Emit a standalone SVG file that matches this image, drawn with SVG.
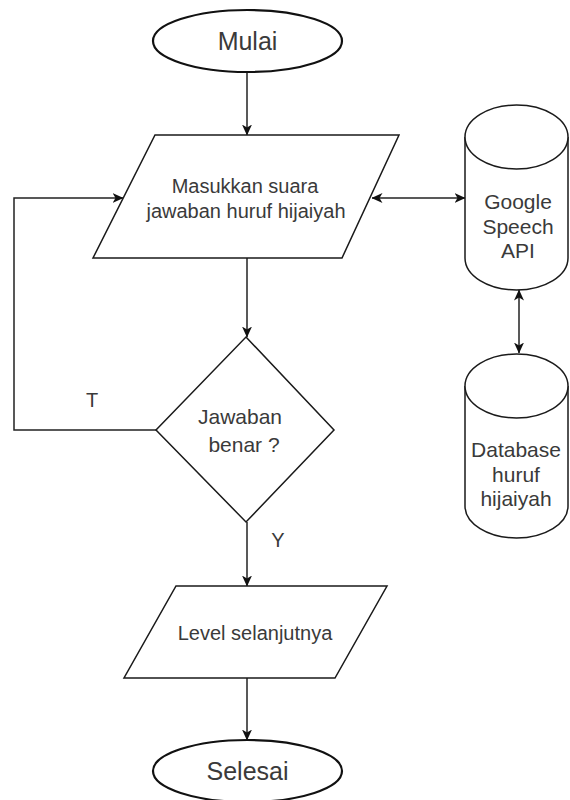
<svg xmlns="http://www.w3.org/2000/svg" width="570" height="800" viewBox="0 0 570 800">
  <defs>
    <marker id="arrow" viewBox="0 0 11 10" refX="10.5" refY="5" markerWidth="11" markerHeight="10" markerUnits="userSpaceOnUse" orient="auto-start-reverse">
      <path d="M0,0 L11,5 L0,10 L3,5 Z" fill="#111"/>
    </marker>
  </defs>
  <style>
    .shape { fill: #ffffff; stroke: #1a1a1a; stroke-width: 1.5; }
    .term { fill: #ffffff; stroke: #111; stroke-width: 2.2; }
    .edge { fill: none; stroke: #222; stroke-width: 1.5; }
    .label { font-family: "Liberation Sans", Arial, sans-serif; font-size: 20px; fill: #3a3a3a; text-anchor: middle; }
    .wide { font-size: 21px; }
    .big { font-size: 25px; }
  </style>
  <rect width="570" height="800" fill="#ffffff"/>

  <!-- connectors -->
  <g id="connectors">
    <line class="edge" x1="247" y1="72" x2="247" y2="135" marker-end="url(#arrow)"/>
    <line class="edge" x1="247" y1="258" x2="247" y2="337" marker-end="url(#arrow)"/>
    <path class="edge" d="M156,430 H14 V198 H123" marker-end="url(#arrow)"/>
    <line class="edge" x1="372" y1="198" x2="465" y2="198" marker-start="url(#arrow)" marker-end="url(#arrow)"/>
    <line class="edge" x1="519" y1="290" x2="519" y2="353" marker-start="url(#arrow)" marker-end="url(#arrow)"/>
    <line class="edge" x1="247" y1="522" x2="247" y2="586" marker-end="url(#arrow)"/>
    <line class="edge" x1="247" y1="678" x2="247" y2="740" marker-end="url(#arrow)"/>
    <text class="label" x="92" y="407">T</text>
    <text class="label" x="278" y="547">Y</text>
  </g>

  <!-- start -->
  <g id="mulai">
    <ellipse class="term" cx="247.5" cy="41" rx="94.5" ry="31"/>
    <text class="label big" x="247.5" y="50">Mulai</text>
  </g>

  <!-- voice input -->
  <g id="input-suara">
    <polygon class="shape" points="155,135 399,135 342,258 93,258"/>
    <text class="label" x="245" y="193">Masukkan suara</text>
    <text class="label" x="246" y="218">jawaban huruf hijaiyah</text>
  </g>

  <!-- speech recognition service -->
  <g id="google-speech">
    <path class="shape" d="M465,137 A51.5,32 0 0 1 568,137 V258 A51.5,32 0 0 1 465,258 Z"/>
    <path class="shape" fill="none" d="M465,137 A51.5,32 0 0 0 568,137"/>
    <text class="label wide" x="518" y="209">Google</text>
    <text class="label wide" x="518" y="234">Speech</text>
    <text class="label wide" x="518" y="258">API</text>
  </g>

  <!-- letters database -->
  <g id="database">
    <path class="shape" d="M465,386 A51.5,32 0 0 1 568,386 V506 A51.5,32 0 0 1 465,506 Z"/>
    <path class="shape" fill="none" d="M465,386 A51.5,32 0 0 0 568,386"/>
    <text class="label wide" x="516" y="457">Database</text>
    <text class="label wide" x="516" y="482">huruf</text>
    <text class="label wide" x="516" y="506">hijaiyah</text>
  </g>

  <!-- decision -->
  <g id="cek-jawaban">
    <polygon class="shape" points="246,337 334,430 246,522 156,430"/>
    <text class="label wide" x="240" y="424">Jawaban</text>
    <text class="label wide" x="244" y="452">benar ?</text>
  </g>

  <!-- next level -->
  <g id="level-selanjutnya">
    <polygon class="shape" points="176,586 387,586 335,678 124,678"/>
    <text class="label" x="255" y="640">Level selanjutnya</text>
  </g>

  <!-- end -->
  <g id="selesai">
    <ellipse class="term" cx="247.5" cy="771" rx="94.5" ry="31"/>
    <text class="label big" x="247.5" y="780">Selesai</text>
  </g>
</svg>
